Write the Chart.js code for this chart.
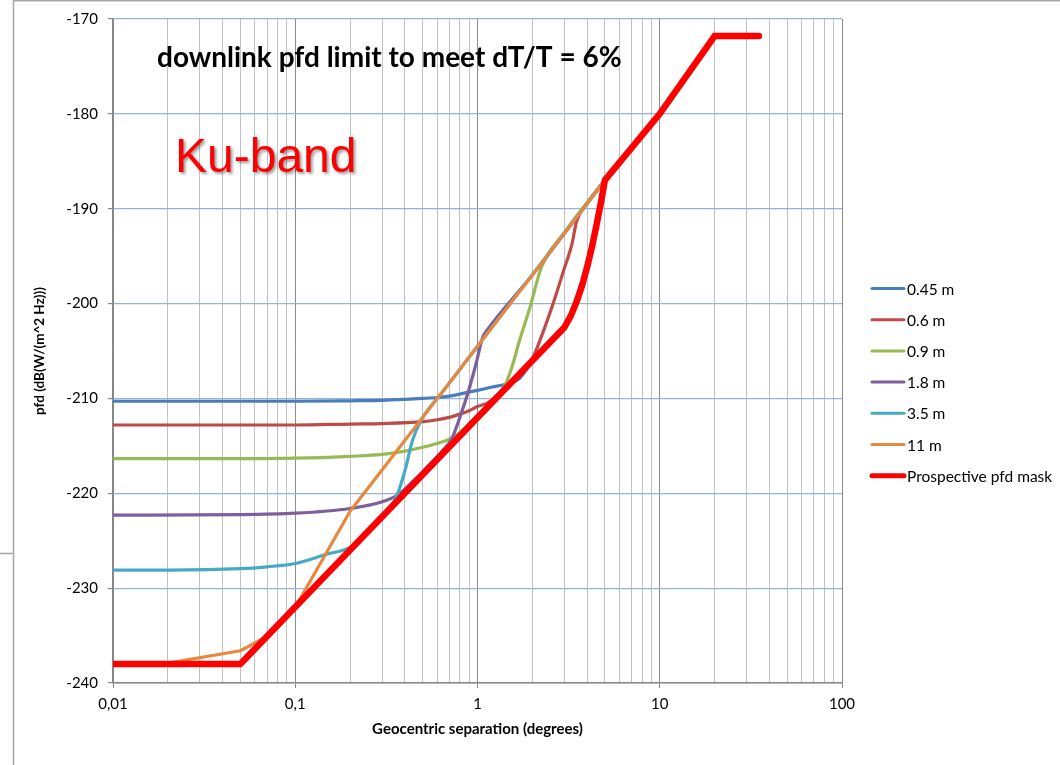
<!DOCTYPE html>
<html>
<head>
<meta charset="utf-8">
<script src="https://cdn.jsdelivr.net/npm/chart.js@4.4.1/dist/chart.umd.min.js"></script>
<style>
  html, body { margin: 0; padding: 0; background: #fff; overflow: hidden; }
  canvas { display: block; }
</style>
</head>
<body>
<canvas id="pfdChart" width="1060" height="765"></canvas>
<script>
// ================== ДАННЫЕ ================== //

// Ось X (логарифмическая): подписи декад
const xDecades = [0.01, 0.1, 1, 10, 100];
const xTickLabels = ['0,01', '0,1', '1', '10', '100'];

// Ось Y
const yMin = -240;
const yMax = -170;
const yStep = 10;

const seriesNames = ['0.45 m', '0.6 m', '0.9 m', '1.8 m', '3.5 m', '11 m', 'Prospective pfd mask'];

// 0.45 m
const sep045 = [0.01, 0.05, 0.1, 0.2, 0.3, 0.4, 0.5, 0.6, 0.7, 0.8, 1, 1.2, 1.5, 1.7, 2, 2.5, 3, 3.5, 4, 4.5, 5];
const pfd045 = [-210.3, -210.3, -210.3, -210.25, -210.2, -210.1, -210.0, -209.9, -209.75, -209.55, -209.15, -208.8, -208.4, -207.9, -206.1, -204.2, -202.6, -199.3, -195.6, -191.4, -187];

// 0.6 m
const sep06 = [0.01, 0.05, 0.1, 0.2, 0.3, 0.5, 0.6, 0.7, 0.8, 0.9, 1, 1.13, 1.5, 2, 2.27, 2.6, 2.97, 3.3, 3.5, 4, 5];
const pfd06 = [-212.8, -212.8, -212.8, -212.7, -212.65, -212.45, -212.25, -212.0, -211.65, -211.3, -210.85, -210.5, -208.4, -205.8, -203.2, -200.0, -196.5, -193.7, -191.3, -189.4, -187];

// 0.9 m
const sep09 = [0.01, 0.05, 0.1, 0.2, 0.3, 0.4, 0.5, 0.6, 0.7, 0.8, 1, 1.2, 1.4, 1.55, 1.7, 1.94, 2.24, 3, 5];
const pfd09 = [-216.35, -216.35, -216.3, -216.1, -215.9, -215.55, -215.15, -214.75, -214.3, -213.6, -211.8, -210.3, -208.8, -206.6, -203.9, -200.4, -196.2, -192.5, -187];

// 1.8 m
const sep18 = [0.01, 0.05, 0.1, 0.2, 0.3, 0.37, 0.45, 0.55, 0.65, 0.72, 0.8, 0.89, 0.98, 1.07, 1.11, 2, 5];
const pfd18 = [-222.3, -222.25, -222.1, -221.6, -220.9, -220.1, -218.6, -216.9, -215.4, -214.3, -212.0, -209.3, -206.4, -203.5, -203.0, -197.0, -187];

// 3.5 m
const sep35 = [0.01, 0.02, 0.05, 0.07, 0.1, 0.15, 0.2, 0.25, 0.3, 0.36, 0.4, 0.44, 0.49, 0.55, 0.62, 1, 2, 5];
const pfd35 = [-228.1, -228.1, -227.95, -227.75, -227.4, -226.4, -225.7, -224.1, -222.5, -220.3, -217.6, -214.4, -212.3, -210.9, -209.7, -204.5, -196.95, -187];

// 11 m (ломаная)
const sep11 = [0.01, 0.02, 0.05, 0.07, 0.1, 0.105, 0.2, 0.5, 1, 2, 5];
const pfd11 = [-238, -237.9, -236.6, -235.1, -232.1, -231.3, -221.9, -212, -204.5, -197, -187];

// Prospective pfd mask
const sepMask = [0.01, 0.05, 3, 3.25, 3.5, 3.75, 4, 4.25, 4.5, 4.75, 5, 10, 20, 35];
const pfdMask = [-238, -238, -202.5, -201.3, -199.8, -198.1, -196.1, -194, -191.7, -189.4, -187, -180, -171.8, -171.8];

// ================== КОНФИГУРАЦИЯ ================== //

const CONFIG = {
  font: 'Lato, "Open Sans", sans-serif',
  colors: ['#4a7ebb', '#be4b48', '#98b954', '#7d5fa0', '#46aac5', '#e4893f', '#ff0000'],
  smooth: [true, true, true, true, true, false, false],
  gridBlue: '#95b3d7',
  gridMinor: '#c3c3c3',
  gridMajor: '#8c8c8c',
  axis: '#868686'
};

const seriesSep = [sep045, sep06, sep09, sep18, sep35, sep11, sepMask];
const seriesPfd = [pfd045, pfd06, pfd09, pfd18, pfd35, pfd11, pfdMask];

function toPoints(xs, ys) {
  return xs.map((x, i) => ({ x: x, y: ys[i] }));
}

function isDecade(v) {
  return xDecades.some(d => Math.abs(v - d) < d * 1e-6);
}

// значения для сетки 1..9 x 10^n
function buildLogTicks() {
  const ticks = [];
  for (let i = 0; i < xDecades.length - 1; i++) {
    for (let k = 1; k < 10; k++) ticks.push({ value: xDecades[i] * k });
  }
  ticks.push({ value: xDecades[xDecades.length - 1] });
  return ticks;
}

// ================== ОФОРМЛЕНИЕ ================== //

const decorPlugin = {
  id: 'decor',
  beforeDraw(chart) {
    const ctx = chart.ctx;
    ctx.save();
    ctx.fillStyle = '#fff';
    ctx.fillRect(0, 0, chart.width, chart.height);
    // рамка области диаграммы
    ctx.strokeStyle = '#a6a6a6';
    ctx.lineWidth = 1.5;
    ctx.beginPath();
    ctx.moveTo(13.5, chart.height);
    ctx.lineTo(13.5, 0.75);
    ctx.lineTo(chart.width, 0.75);
    ctx.moveTo(0, 553.5);
    ctx.lineTo(13.5, 553.5);
    ctx.stroke();
    ctx.restore();
  },
  afterDraw(chart) {
    const ctx = chart.ctx;
    ctx.save();

    // заголовок внутри области построения
    ctx.fillStyle = '#000';
    ctx.font = 'bold 28px ' + CONFIG.font;
    ctx.textBaseline = 'alphabetic';
    ctx.fillText('downlink pfd limit to meet dT/T = 6%', 157, 67);

    // Ku-band с тенью
    ctx.save();
    ctx.shadowColor = 'rgba(0,0,0,0.4)';
    ctx.shadowOffsetX = 2;
    ctx.shadowOffsetY = 2;
    ctx.shadowBlur = 3;
    ctx.fillStyle = '#ff0000';
    ctx.font = '48px "Liberation Sans", Arial, sans-serif';
    ctx.fillText('Ku-band', 175, 172);
    ctx.restore();

    // легенда
    const lx = 870, rowY = 288.5, rowH = 31.2;
    ctx.font = '15.5px ' + CONFIG.font;
    ctx.textBaseline = 'middle';
    ctx.lineCap = 'round';
    seriesNames.forEach((name, i) => {
      const y = rowY + i * rowH;
      const isMask = i === seriesNames.length - 1;
      ctx.strokeStyle = CONFIG.colors[i];
      ctx.lineWidth = isMask ? 5 : 3;
      ctx.beginPath();
      ctx.moveTo(lx + 2, y);
      ctx.lineTo(lx + 34, y);
      ctx.stroke();
      ctx.fillStyle = '#000';
      ctx.fillText(name, lx + 37, y + 1);
    });

    ctx.restore();
  }
};

// ================== ГРАФИК ================== //

function buildDatasets() {
  return seriesNames.map((name, i) => {
    const isMask = i === seriesNames.length - 1;
    return {
      label: name,
      data: toPoints(seriesSep[i], seriesPfd[i]),
      borderColor: CONFIG.colors[i],
      backgroundColor: CONFIG.colors[i],
      borderWidth: isMask ? 6.5 : 3.2,
      pointRadius: 0,
      fill: false,
      cubicInterpolationMode: CONFIG.smooth[i] ? 'monotone' : 'default',
      tension: 0,
      borderCapStyle: isMask ? 'round' : 'butt',
      borderJoinStyle: isMask ? 'miter' : 'round',
      // маска поверх всех, порядок как в Excel
      order: isMask ? 0 : seriesNames.length - 1 - i
    };
  });
}

function renderChart() {
  const ctx = document.getElementById('pfdChart').getContext('2d');
  return new Chart(ctx, {
    type: 'line',
    data: { datasets: buildDatasets() },
    plugins: [decorPlugin],
    options: {
      responsive: false,
      animation: false,
      devicePixelRatio: 1,
      layout: { padding: { left: 0, right: 218, top: 18, bottom: 0 } },
      plugins: {
        legend: { display: false },
        tooltip: { enabled: false }
      },
      scales: {
        x: {
          type: 'logarithmic',
          min: xDecades[0],
          max: xDecades[xDecades.length - 1],
          afterBuildTicks: (scale) => { scale.ticks = buildLogTicks(); },
          afterFit: (scale) => { scale.height = 82; },
          border: { color: CONFIG.axis, width: 1.5 },
          grid: {
            color: (c) => isDecade(c.tick.value) ? CONFIG.gridMajor : CONFIG.gridMinor,
            tickColor: (c) => isDecade(c.tick.value) ? CONFIG.axis : 'rgba(0,0,0,0)',
            tickLength: 5,
            lineWidth: 1
          },
          ticks: {
            autoSkip: false,
            maxRotation: 0,
            padding: 7,
            color: '#000',
            font: { family: CONFIG.font, size: 15 },
            callback: (value) => {
              const idx = xDecades.findIndex(d => Math.abs(value - d) < d * 1e-6);
              return idx >= 0 ? xTickLabels[idx] : '';
            }
          },
          title: {
            display: true,
            text: 'Geocentric separation (degrees)',
            color: '#000',
            font: { family: CONFIG.font, size: 15, weight: 'bold' },
            padding: { top: 4, bottom: 27 }
          }
        },
        y: {
          type: 'linear',
          min: yMin,
          max: yMax,
          afterFit: (scale) => { scale.width = 113; },
          border: { color: CONFIG.axis, width: 1.5 },
          grid: {
            color: CONFIG.gridBlue,
            tickColor: CONFIG.axis,
            tickLength: 5,
            lineWidth: 1.2
          },
          ticks: {
            stepSize: yStep,
            padding: 10,
            color: '#000',
            font: { family: CONFIG.font, size: 15 }
          },
          title: {
            display: true,
            text: 'pfd (dB(W/(m^2 Hz)))',
            color: '#000',
            font: { family: CONFIG.font, size: 13.5, weight: 'bold' },
            padding: { top: 32, bottom: 4 }
          }
        }
      }
    }
  });
}

document.addEventListener('DOMContentLoaded', renderChart);
</script>
</body>
</html>
